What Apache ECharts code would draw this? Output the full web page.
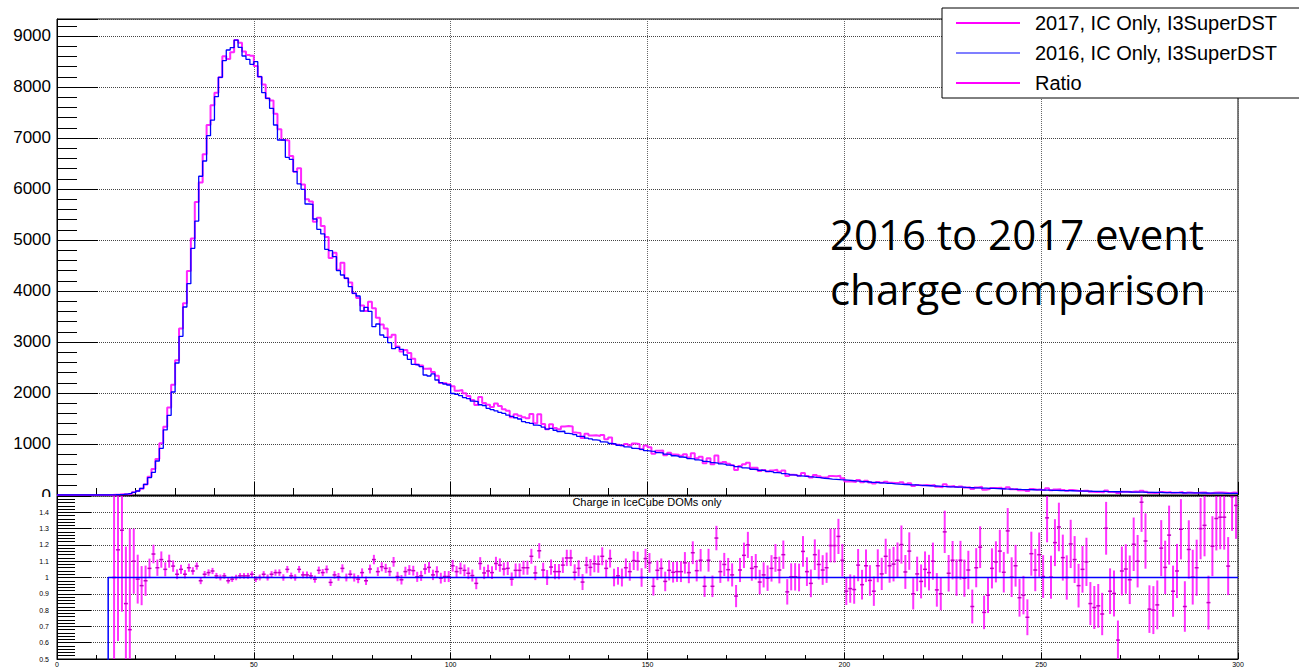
<!DOCTYPE html>
<html><head><meta charset="utf-8">
<script src="https://cdn.jsdelivr.net/npm/echarts@6/dist/echarts.min.js"></script>
<style>html,body{margin:0;padding:0;background:#fff}#c{width:1299px;height:668px}</style>
</head><body><div id="c"></div>
<script>
// ---- data (bin width 1, bins 0..299) ----
const name2017 = '2017, IC Only, I3SuperDST';
const name2016 = '2016, IC Only, I3SuperDST';
const nameRatio = 'Ratio';
const plotTitle = 'Charge in IceCube DOMs only';
const noteLines = ['2016 to 2017 event', 'charge comparison'];

const xTickLabels = ['0','50','100','150','200','250','300'];
const topYTickLabels = ['0','1000','2000','3000','4000','5000','6000','7000','8000','9000'];
const ratioYTickLabels = ['0.5','0.6','0.7','0.8','0.9','1','1.1','1.2','1.3','1.4'];

const h2016 = [
0,0,0,0,0,0,0,0,0,0,
0,0,0,3,5,8,12,20,30,50,
78,131,209,340,444,667,915,1275,1562,2020,
2588,3111,3686,4143,4837,5370,6250,6549,7046,7350,
7810,8190,8516,8725,8771,8920,8778,8608,8542,8444,
8497,8203,7889,7778,7582,7255,6961,6961,6621,6582,
6340,6100,5993,5706,5699,5412,5209,5118,4817,4791,
4673,4399,4314,4250,4085,3954,3902,3608,3680,3601,
3301,3353,3137,3092,2987,2869,2895,2856,2745,2660,
2562,2549,2516,2353,2333,2373,2255,2203,2176,2157,
1990,1975,1950,1910,1890,1840,1830,1770,1755,1700,
1675,1650,1620,1600,1565,1540,1515,1490,1440,1420,
1405,1370,1360,1330,1290,1305,1270,1245,1250,1210,
1200,1185,1150,1150,1115,1100,1080,1070,1040,1035,
1010,1000,975,970,945,940,915,910,895,870,
860,855,830,825,800,795,770,760,745,735,
715,710,690,680,660,650,635,625,610,600,
585,575,555,545,530,525,505,500,485,480,
465,455,440,435,420,410,395,390,375,370,
360,355,345,340,328,322,312,308,300,296,
290,284,276,272,262,260,250,247,240,236,
228,226,218,215,210,206,200,197,192,189,
185,181,176,174,168,166,161,159,155,153,
148,146,142,140,136,134,130,128,124,123,
119,117,114,112,109,107,104,103,100,99,
96,95,92,91,88,87,84,83,80,80,
77,76,74,73,70,70,67,67,64,64,
61,61,59,58,56,56,53,53,51,51,
49,48,47,46,45,44,43,42,41,41,
39,39,37,37,35,35,33,33,32,31
];

const h2017 = [
0,0,0,0,0,0,0,0,0,0,
0,0,0,0,5,9,15,17,20,55,
77,124,205,359,508,707,1016,1339,1718,2161,
2640,3267,3760,4392,5030,5746,6125,6680,7257,7644,
7888,8190,8601,8551,8683,8920,8866,8694,8627,8613,
8412,8203,8047,7778,7734,7473,7170,6961,6952,6648,
6340,6405,6089,5797,5756,5358,5438,5272,5058,4647,
4748,4417,4556,4250,4167,3954,3863,3716,3606,3788,
3664,3474,3344,3265,3094,3144,2912,2816,2844,2782,
2670,2559,2541,2475,2478,2411,2336,2194,2189,2170,
2133,2046,2059,1994,1939,1862,1764,1922,1804,1768,
1725,1792,1743,1683,1653,1525,1582,1556,1526,1505,
1588,1408,1583,1391,1290,1389,1316,1290,1345,1355,
1344,1223,1214,1118,1200,1168,1171,1158,1175,1093,
1127,1000,985,970,1002,974,1010,1001,895,971,
937,809,867,871,781,830,795,787,772,801,
736,818,719,752,624,719,601,776,632,648,
613,584,492,570,602,630,533,533,471,488,
463,480,493,455,479,374,397,392,375,429,
373,342,393,367,343,341,373,368,376,327,
266,265,256,293,250,279,246,226,257,241,
258,242,236,238,252,213,232,177,196,184,
194,186,194,161,151,212,165,176,155,169,
147,153,117,148,161,105,116,135,136,143,
123,150,114,120,95,95,79,118,105,113,
97,130,92,110,115,98,84,100,89,76,
81,83,62,60,58,54,87,61,58,39,
63,64,58,70,62,82,65,43,41,42,
58,51,59,42,47,57,35,49,41,43,
51,51,31,44,48,48,45,35,48,45
];

const ratio = [
null,null,null,null,null,null,null,null,null,null,
null,null,null,null,1.00,1.17,1.29,0.84,0.68,1.10,
0.99,0.95,0.98,1.056,1.144,1.06,1.11,1.05,1.10,1.07,
1.02,1.05,1.02,1.06,1.04,1.07,0.98,1.02,1.03,1.04,
1.01,1.00,1.01,0.98,0.99,1.00,1.01,1.01,1.01,1.02,
0.99,1.00,1.02,1.00,1.02,1.03,1.03,1.00,1.05,1.01,
1.00,1.05,1.016,1.016,1.01,0.99,1.044,1.03,1.05,0.97,
1.016,1.004,1.056,1.0,1.02,1.0,0.99,1.03,0.98,1.052,
1.11,1.036,1.066,1.056,1.036,1.096,1.006,0.986,1.036,1.046,
1.042,1.004,1.01,1.052,1.062,1.016,1.036,0.996,1.006,1.006,
1.072,1.036,1.056,1.044,1.026,1.012,0.964,1.086,1.028,1.04,
1.03,1.086,1.076,1.052,1.056,0.99,1.044,1.044,1.06,1.06,
1.13,1.028,1.164,1.046,1.0,1.064,1.036,1.036,1.076,1.12,
1.12,1.032,1.056,0.972,1.076,1.062,1.084,1.082,1.13,1.056,
1.116,1.0,1.01,1.0,1.06,1.036,1.104,1.1,1.0,1.116,
1.09,0.946,1.044,1.056,0.976,1.044,1.032,1.036,1.036,1.09,
1.03,1.152,1.042,1.106,0.946,1.106,0.946,1.242,1.036,1.08,
1.048,1.016,0.886,1.046,1.136,1.2,1.056,1.066,0.972,1.016,
0.996,1.056,1.12,1.046,1.14,0.912,1.004,1.004,1.0,1.16,
1.036,0.964,1.14,1.08,1.046,1.06,1.196,1.196,1.252,1.106,
0.916,0.932,0.926,1.076,0.956,1.072,0.982,0.916,1.072,1.022,
1.13,1.072,1.082,1.106,1.202,1.034,1.162,0.9,1.022,0.976,
1.05,1.03,1.1,0.924,0.9,1.28,1.026,1.106,1.0,1.106,
0.996,1.046,0.822,1.06,1.186,0.786,0.892,1.056,1.096,1.162,
1.032,1.286,1.002,1.072,0.876,0.892,0.756,1.146,1.046,1.14,
1.006,1.366,1.002,1.214,1.31,1.122,1.0,1.206,1.11,0.95,
1.05,1.096,0.84,0.816,0.826,0.776,1.302,0.916,0.902,0.616,
1.04,1.052,0.986,1.204,1.1,1.462,1.224,0.806,0.8,0.832,
1.18,1.062,1.26,0.916,1.04,1.296,0.822,1.172,1.002,1.06,
1.3,1.32,0.846,1.192,1.362,1.37,1.37,1.07,1.496,1.442
];

const ratioErr = [
null,null,null,null,null,null,null,null,null,null,
null,null,null,null,1.0,0.56,0.5,0.35,0.62,0.2,
0.15,0.12,0.093,0.06,0.057,0.05,0.05,0.043,0.04,0.035,
0.03,0.028,0.026,0.025,0.023,0.022,0.021,0.02,0.02,0.019,
0.018,0.018,0.018,0.017,0.017,0.017,0.017,0.017,0.018,0.018,
0.018,0.018,0.019,0.019,0.019,0.019,0.02,0.02,0.021,0.02,
0.02,0.021,0.021,0.021,0.021,0.022,0.023,0.022,0.024,0.022,
0.023,0.024,0.025,0.024,0.025,0.025,0.025,0.026,0.026,0.027,
0.029,0.027,0.028,0.028,0.028,0.03,0.029,0.029,0.03,0.03,
0.03,0.031,0.031,0.032,0.033,0.032,0.033,0.033,0.034,0.034,
0.036,0.035,0.036,0.036,0.036,0.037,0.036,0.039,0.038,0.039,
0.039,0.041,0.041,0.04,0.041,0.041,0.042,0.042,0.043,0.043,
0.046,0.044,0.047,0.045,0.046,0.047,0.047,0.047,0.048,0.05,
0.05,0.049,0.05,0.049,0.051,0.052,0.052,0.053,0.055,0.053,
0.055,0.054,0.054,0.055,0.057,0.056,0.058,0.058,0.057,0.06,
0.06,0.057,0.06,0.061,0.06,0.062,0.063,0.063,0.064,0.066,
0.065,0.07,0.066,0.069,0.065,0.07,0.066,0.075,0.069,0.071,
0.072,0.071,0.068,0.074,0.078,0.08,0.076,0.078,0.075,0.077,
0.078,0.081,0.085,0.082,0.087,0.078,0.083,0.084,0.085,0.094,
0.088,0.085,0.094,0.092,0.091,0.093,0.103,0.104,0.108,0.1,
0.085,0.087,0.087,0.099,0.091,0.1,0.094,0.09,0.101,0.099,
0.108,0.104,0.106,0.109,0.117,0.104,0.115,0.096,0.106,0.104,
0.11,0.109,0.114,0.103,0.101,0.13,0.112,0.118,0.112,0.119,
0.114,0.118,0.104,0.12,0.128,0.103,0.11,0.123,0.126,0.131,
0.124,0.14,0.122,0.128,0.116,0.118,0.11,0.135,0.13,0.136,
0.131,0.15,0.132,0.144,0.149,0.141,0.136,0.148,0.144,0.134,
0.143,0.148,0.132,0.132,0.134,0.13,0.162,0.14,0.141,0.12,
0.15,0.152,0.149,0.164,0.161,0.182,0.17,0.146,0.147,0.15,
0.172,0.164,0.181,0.157,0.166,0.185,0.155,0.179,0.168,0.172,
0.188,0.19,0.165,0.184,0.196,0.197,0.199,0.178,0.21,0.205
];

// ---- build library inputs ----
const NB = h2016.length;
function stepData(arr) {
  const d = arr.map((v, i) => [i, v]);
  d.push([NB, arr[NB - 1]]);
  return d;
}
// 2016 divided by itself (reference line of the ratio pad)
const selfRatio = h2016.map(v => (v > 0 ? v / v : 0));
const ratioData = [];
ratio.forEach((r, i) => { if (r != null) ratioData.push([i + 0.5, r, ratioErr[i]]); });

const FONT = 'Liberation Sans';
const MAG = '#ff00ff', BLU = '#0000ff';
const near = (list, v) => { const s = list.find(t => Math.abs(parseFloat(t) - v) < 1e-6); return s === undefined ? '' : s; };

const chart = echarts.init(document.getElementById('c'), null, { renderer: 'svg' });
chart.setOption({
  animation: false,
  backgroundColor: '#fff',
  grid: [
    { left: 57, top: 19, width: 1181, height: 476, show: true, borderColor: '#000', borderWidth: 1, backgroundColor: 'transparent' },
    { left: 57, top: 496, width: 1181, height: 167, show: true, borderColor: '#000', borderWidth: 1, backgroundColor: 'transparent' }
  ],
  xAxis: [
    { gridIndex: 0, type: 'value', min: 0, max: 300, interval: 50,
      axisLine: { lineStyle: { color: '#000', width: 1 } },
      axisTick: { inside: true, length: 13, lineStyle: { color: '#000' } },
      minorTick: { show: true, splitNumber: 5, length: 7, lineStyle: { color: '#000' } },
      axisLabel: { show: false },
      splitLine: { show: true, lineStyle: { type: 'dotted', color: '#666', width: 1 } } },
    { gridIndex: 1, type: 'value', min: 0, max: 300, interval: 50,
      axisLine: { lineStyle: { color: '#000', width: 1 } },
      axisTick: { inside: true, length: 6, lineStyle: { color: '#000' } },
      minorTick: { show: true, splitNumber: 5, length: 4, lineStyle: { color: '#000' } },
      axisLabel: { fontFamily: FONT, fontSize: 7, color: '#000', margin: 2, formatter: v => near(xTickLabels, v) },
      splitLine: { show: true, lineStyle: { type: 'dotted', color: '#444', width: 1 } } }
  ],
  yAxis: [
    { gridIndex: 0, type: 'value', min: 0, max: 9333, interval: 1000,
      axisLine: { show: true, lineStyle: { color: '#000', width: 1 } },
      axisTick: { show: true, inside: true, length: 41, lineStyle: { color: '#000' } },
      minorTick: { show: true, splitNumber: 5, length: 20, lineStyle: { color: '#000' } },
      axisLabel: { fontFamily: FONT, fontSize: 17, color: '#000', margin: 6, formatter: v => near(topYTickLabels, v) },
      splitLine: { show: true, lineStyle: { type: 'dotted', color: '#444', width: 1 } } },
    { gridIndex: 1, type: 'value', min: 0.5, max: 1.5, interval: 0.1,
      axisLine: { show: true, lineStyle: { color: '#000', width: 1 } },
      axisTick: { show: true, inside: true, length: 34, lineStyle: { color: '#000' } },
      minorTick: { show: true, splitNumber: 5, length: 18, lineStyle: { color: '#000' } },
      axisLabel: { fontFamily: FONT, fontSize: 7, color: '#000', margin: 8, formatter: v => near(ratioYTickLabels, v) },
      splitLine: { show: true, lineStyle: { type: 'dotted', color: '#444', width: 1 } } }
  ],
  legend: {
    left: 942, top: 8, orient: 'vertical',
    itemWidth: 64, itemHeight: 2, itemGap: 10,
    padding: [5, 40, 5, 14],
    backgroundColor: '#fff', borderColor: '#000', borderWidth: 1, borderRadius: 0,
    selectedMode: false,
    textStyle: { fontFamily: FONT, fontSize: 20, color: '#000', lineHeight: 20, padding: [0, 0, 0, 10] },
    data: [ { name: name2017, icon: 'rect' },
            { name: name2016, icon: 'path://M0,0H64V1H0Z' },
            { name: nameRatio, icon: 'rect' } ]
  },
  graphic: [
    { type: 'rect', z: 100, shape: { x: 0, y: 497, width: 56, height: 11 }, style: { fill: '#fff' } },
    { type: 'text', z: 100, x: 647, y: 502, style: { text: plotTitle, font: '11px "Liberation Sans"', fill: '#000', textAlign: 'center', textVerticalAlign: 'middle' } },
    { type: 'text', z: 100, x: 830, y: 233, style: { text: noteLines[0], font: '42px "Open Sans"', fill: '#000', textAlign: 'left', textVerticalAlign: 'middle' } },
    { type: 'text', z: 100, x: 830, y: 288, style: { text: noteLines[1], font: '42px "Open Sans"', fill: '#000', textAlign: 'left', textVerticalAlign: 'middle' } }
  ],
  series: [
    { name: name2017, type: 'line', xAxisIndex: 0, yAxisIndex: 0, step: 'end', symbol: 'none',
      color: MAG, lineStyle: { color: MAG, width: 2, opacity: 0.85 }, data: stepData(h2017), z: 3 },
    { name: name2016, type: 'line', xAxisIndex: 0, yAxisIndex: 0, step: 'end', symbol: 'none',
      color: BLU, lineStyle: { color: BLU, width: 1.3 }, data: stepData(h2016), z: 4 },
    { name: nameRatio, type: 'custom', xAxisIndex: 1, yAxisIndex: 1, color: MAG, itemStyle: { color: MAG },
      data: ratioData, encode: { x: 0, y: 1 }, z: 3,
      renderItem: function (params, api) {
        const x = api.value(0), r = api.value(1), e = api.value(2);
        const lo = Math.max(r - e, 0.5), hi = Math.min(r + e, 1.5);
        const children = [];
        if (hi > lo) {
          const a = api.coord([x, lo]), b = api.coord([x, hi]);
          children.push({ type: 'line', shape: { x1: a[0], y1: a[1], x2: b[0], y2: b[1] }, style: { stroke: MAG, lineWidth: 2, opacity: 0.8 } });
        }
        if (r >= 0.5 && r <= 1.5) {
          const l = api.coord([x - 0.5, r]), rr = api.coord([x + 0.5, r]);
          children.push({ type: 'line', shape: { x1: l[0], y1: l[1], x2: rr[0], y2: rr[1] }, style: { stroke: '#c000c0', lineWidth: 1.5 } });
        }
        return { type: 'group', children: children };
      } },
    { name: 'ratio2016', type: 'line', xAxisIndex: 1, yAxisIndex: 1, step: 'end', symbol: 'none',
      color: BLU, lineStyle: { color: BLU, width: 1.5 }, data: stepData(selfRatio), z: 4 }
  ]
});
</script></body></html>
